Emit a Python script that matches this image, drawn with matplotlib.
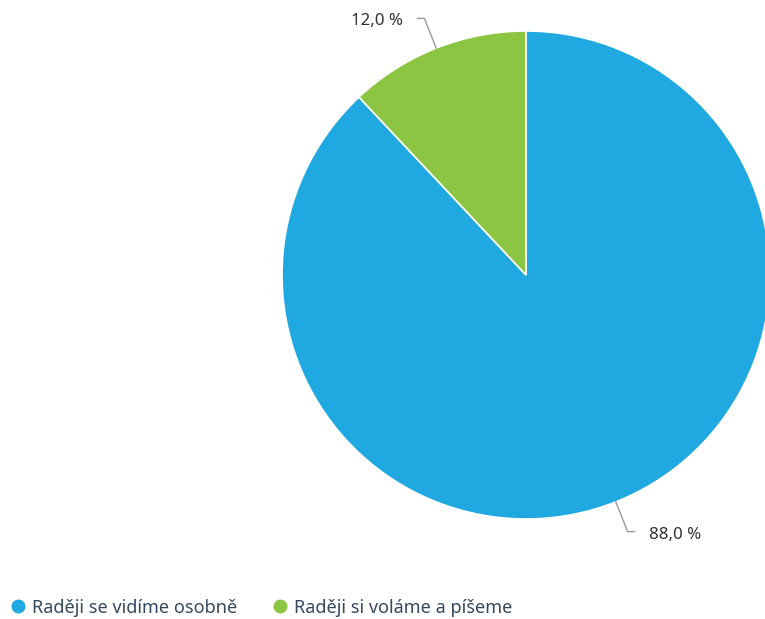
import numpy as np
import matplotlib.pyplot as plt
from matplotlib.lines import Line2D

labels = ["Raději se vidíme osobně", "Raději si voláme a píšeme"]
values = [88.0, 12.0]
value_texts = ["88,0 %", "12,0 %"]
colors = ["#20a8e0", "#8cc542"]

W, H = 765, 619
fig = plt.figure(figsize=(W / 100, H / 100), dpi=100)
ax = fig.add_axes([0, 0, 1, 1])
ax.set_xlim(0, W)
ax.set_ylim(0, H)
ax.set_aspect("equal")
ax.axis("off")

cx, cy, r = 526, H - 275, 244
wedges, _ = ax.pie(values, colors=colors, startangle=90, counterclock=False,
                   center=(cx, cy), radius=r,
                   wedgeprops=dict(edgecolor="white", linewidth=1.2))
ax.set_xlim(0, W)
ax.set_ylim(0, H)

for w, txt in zip(wedges, value_texts):
    ang = np.deg2rad((w.theta1 + w.theta2) / 2)
    ex, ey = cx + r * np.cos(ang), cy + r * np.sin(ang)
    bx, by = cx + (r + 32) * np.cos(ang), cy + (r + 32) * np.sin(ang)
    side = 1 if np.cos(ang) >= 0 else -1
    hx = bx + side * 7
    ax.plot([ex, bx, hx], [ey, by, by], color="#999999", lw=1,
            solid_joinstyle="round")
    ax.text(hx + side * 14, by - 3, txt, ha="left" if side > 0 else "right",
            va="center", fontsize=12.2, color="#333333", family="Noto Sans")

handles = [Line2D([], [], marker="o", linestyle="", markersize=9,
                  markerfacecolor=c, markeredgecolor=c) for c in colors]
fig.legend(handles, labels, loc="lower left", bbox_to_anchor=(0, -0.008),
           ncol=2, frameon=False, handletextpad=0.15, columnspacing=1.8,
           prop=dict(family="Noto Sans", size=13), labelcolor="#34495e",
           borderaxespad=0.0, handlelength=1.2)

fig.savefig("out.png", dpi=100)
